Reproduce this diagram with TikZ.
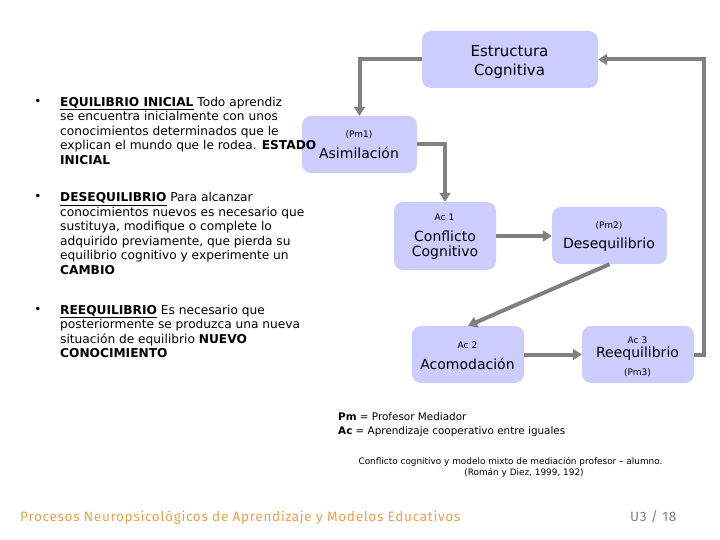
\documentclass[tikz,border=0pt]{standalone}
\usepackage{fontspec}
\setmainfont{DejaVu Sans}
\newfontfamily\footfont[LetterSpace=5]{Fira Sans}
\usetikzlibrary{arrows.meta}
\definecolor{boxfill}{RGB}{204,204,255}
\definecolor{arrowgray}{RGB}{128,128,128}
\definecolor{footorange}{RGB}{234,160,76}
\definecolor{footgray}{RGB}{128,128,128}
\begin{document}
\begin{tikzpicture}[x=1pt,y=-1pt,
  stage/.style={fill=boxfill, draw=none, rounded corners=9pt, inner sep=0pt},
  flow/.style={draw=arrowgray, line width=4pt, -{Triangle[width=11pt,length=9pt]}},
  tag/.style={inner sep=0pt, font=\fontsize{9}{10}\selectfont},
  big/.style={inner sep=0pt, font=\fontsize{14}{16}\selectfont},
  bigger/.style={inner sep=0pt, font=\fontsize{15}{17}\selectfont},
  bullet/.style={inner sep=0pt, font=\fontsize{12}{14}\selectfont},
  para/.style={inner sep=0pt, anchor=north west, align=left, font=\fontsize{12.2}{14.5}\selectfont},
  legend/.style={inner sep=0pt, anchor=west, font=\fontsize{10.4}{12}\selectfont},
  caption/.style={inner sep=0pt, font=\fontsize{8.9}{10}\selectfont},
  foot/.style={inner sep=0pt, anchor=west, font=\footfont\fontsize{13.6}{15}\selectfont}]
\useasboundingbox (0,0) rectangle (720,540);

% boxes
\node[stage, minimum width=176pt, minimum height=57pt] (est) at (510,59.5) {};
\node[stage, minimum width=115pt, minimum height=57pt] (asim) at (359.5,144.5) {};
\node[stage, minimum width=102pt, minimum height=68pt] (conf) at (445,236) {};
\node[stage, minimum width=115pt, minimum height=57pt] (deseq) at (609.5,235.5) {};
\node[stage, minimum width=112pt, minimum height=57pt] (acom) at (468,354.5) {};
\node[stage, minimum width=112pt, minimum height=57pt] (reeq) at (638,354.5) {};

% box texts
\node[bigger] (estA) at (509.5,51.5) {Estructura};
\node[bigger] (estB) at (509.5,71) {Cognitiva};
\node[tag] (asimT) at (359,134.5) {(Pm1)};
\node[big] (asimL) at (359,153.5) {Asimilación};
\node[tag] (confT) at (444.5,217.5) {Ac 1};
\node[big] (confA) at (445,236.5) {Conflicto};
\node[big] (confB) at (445,253) {Cognitivo};
\node[tag] (deseqT) at (609,225.5) {(Pm2)};
\node[big] (deseqL) at (609,245) {Desequilibrio};
\node[tag] (acomT) at (467.5,345) {Ac 2};
\node[big] (acomL) at (467.5,364) {Acomodación};
\node[tag] (reeqT) at (637.5,340.5) {Ac 3};
\node[big] (reeqL) at (637.5,354) {Reequilibrio};
\node[tag] (reeqB) at (637.5,373) {(Pm3)};

% connectors
\draw[flow] (est.west) -| (asim.north);
\draw[flow] (asim.east) -| (conf.north);
\draw[flow] (conf.east |- 0,236) -- (deseq.west |- 0,236);
\draw[flow] (deseq.south) -- (acom.north);
\draw[flow] (acom.east) -- (reeq.west);
\coordinate (loopA) at (704,354.5);
\coordinate (loopB) at (704,59.5);
\draw[flow] (reeq.east) -- (loopA) -- (loopB) -- (est.east);

% left text
\node[bullet] (b1) at (38,102) {•};
\node[para] (p1) at (60,97) {\underline{\textbf{EQUILIBRIO INICIAL}} Todo aprendiz\\
se encuentra inicialmente con unos\\
conocimientos determinados que le\\
explican el mundo que le rodea. \textbf{ESTADO}\\
\textbf{INICIAL}};
\node[bullet] (b2) at (38,197.5) {•};
\node[para] (p2) at (60,192.5) {\underline{\textbf{DESEQUILIBRIO}} Para alcanzar\\
conocimientos nuevos es necesario que\\
sustituya, modifique o complete lo\\
adquirido previamente, que pierda su\\
equilibrio cognitivo y experimente un\\
\textbf{CAMBIO}};
\node[bullet] (b3) at (38,310) {•};
\node[para] (p3) at (60,305) {\underline{\textbf{REEQUILIBRIO}} Es necesario que\\
posteriormente se produzca una nueva\\
situación de equilibrio \textbf{NUEVO}\\
\textbf{CONOCIMIENTO}};

% legend
\node[legend] (lpm) at (338,417) {\textbf{Pm} = Profesor Mediador};
\node[legend] (lac) at (338,432) {\textbf{Ac} = Aprendizaje cooperativo entre iguales};
\node[caption] (cap1) at (510.5,461.5) {Conflicto cognitivo y modelo mixto de mediación profesor – alumno.};
\node[caption] (cap2) at (524,472.5) {(Román y Diez, 1999, 192)};

% footer
\node[foot, text=footorange] (ftitle) at (20,517) {Procesos Neuropsicológicos de Aprendizaje y Modelos Educativos};
\node[foot, text=footgray] (fpage) at (630,517) {U3 / 18};
\end{tikzpicture}
\end{document}
